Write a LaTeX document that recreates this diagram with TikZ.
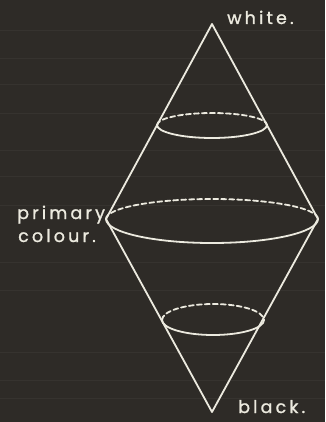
\documentclass[tikz,border=0pt]{standalone}
\usepackage{fontspec}
\setmainfont{Poppins}
\newfontfamily\chalkfont{Poppins}[LetterSpace=18, FakeBold=1.2]
\definecolor{bgc}{HTML}{2E2B27}
\definecolor{chalkc}{HTML}{ECEADF}
\begin{document}
\begin{tikzpicture}[x=1pt,y=-1pt,
  chalk/.style={draw=chalkc, line width=1.8pt, line cap=round, line join=round},
  dashchalk/.style={chalk, dash pattern=on 5pt off 3pt},
  lbl/.style={text=chalkc, font=\chalkfont\fontsize{17.5}{17.5}\selectfont, inner sep=0pt}]
\fill[bgc] (0,0) rectangle (325,422);
\useasboundingbox (0,0) rectangle (325,422);
\foreach \yy in {30,58,84,113,150,176,205,262,290,352,380,398} {
  \draw[white, opacity=0.04, line width=0.8pt] (0,\yy) -- (325,\yy);
}
\coordinate (W) at (212,24);
\coordinate (K) at (212,412);
\coordinate (P) at (106,219);
\coordinate (Q) at (318,219);
\draw[chalk] (W) -- (P) -- (K) -- (Q) -- cycle;
% top ellipse
\draw[dashchalk] (157,125) arc[start angle=180, end angle=360, x radius=55, y radius=12];
\draw[chalk] (267,125) arc[start angle=0, end angle=180, x radius=55, y radius=13];
% middle ellipse
\draw[dashchalk] (P) arc[start angle=180, end angle=360, x radius=106, y radius=20];
\draw[chalk] (Q) arc[start angle=0, end angle=180, x radius=106, y radius=24];
% bottom ellipse
\draw[dashchalk] (162,320) arc[start angle=180, end angle=360, x radius=51, y radius=16];
\draw[chalk] (264,320) arc[start angle=0, end angle=180, x radius=51, y radius=15];
\node[lbl, anchor=base west] (wl) at (227,24) {white.};
\node[lbl, anchor=base west] (pl) at (17,219) {primary};
\node[lbl, anchor=base west] (cl) at (18,242) {colour.};
\node[lbl, anchor=base west] (bl) at (238,413) {black.};
\end{tikzpicture}
\end{document}
